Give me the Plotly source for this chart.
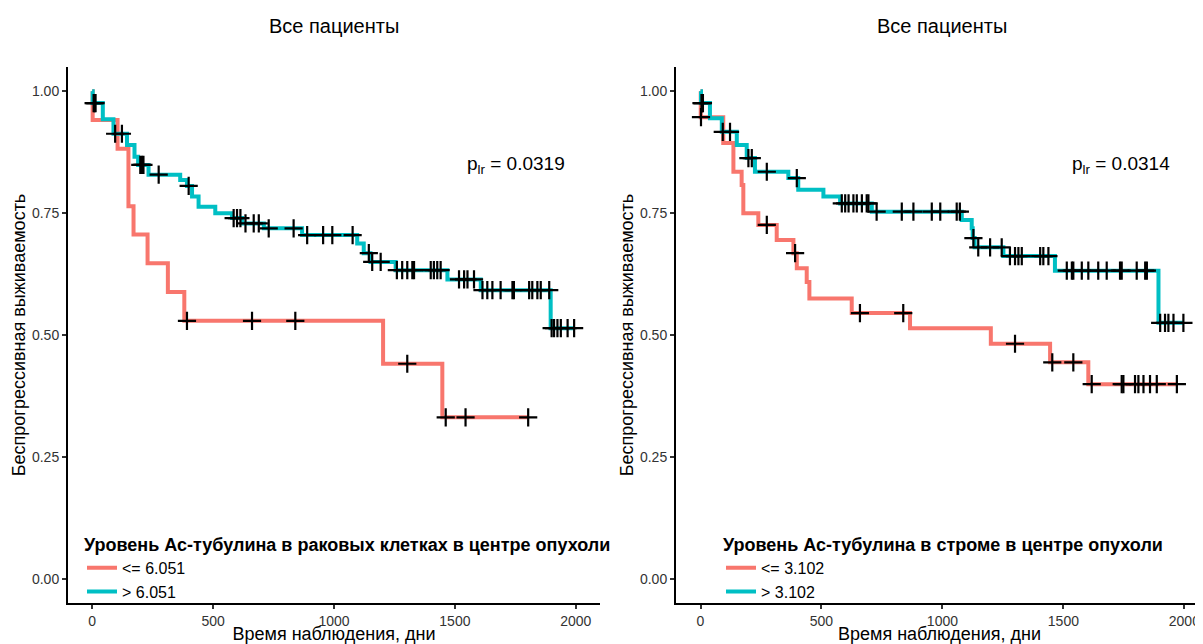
import plotly.graph_objects as go

# ---------------- data ----------------
TITLE = "Все пациенты"
X_LABEL = "Время наблюдения, дни"
Y_LABEL = "Беспрогрессивная выживаемость"
X_TICKS = [0, 500, 1000, 1500, 2000]
Y_TICKS = [0.0, 0.25, 0.50, 0.75, 1.00]
Y_TICK_TEXT = ["0.00", "0.25", "0.50", "0.75", "1.00"]

# Left panel: Ac-tubulin in cancer cells, tumour centre
L_legend_title = "Уровень Ас-тубулина в раковых клетках в центре опухоли"
L_names = ["<= 6.051", "> 6.051"]
L_pval = "p<sub>lr</sub> = 0.0319"

L_low_t = [0, 2, 105, 150, 171, 229, 313, 381, 1203, 1448]
L_low_s = [1.0, 0.941, 0.882, 0.764, 0.706, 0.647, 0.588, 0.529, 0.441, 0.331]
L_low_c = [392, 661, 840, 1303, 1462, 1544, 1803]

L_high_t = [0, 2, 44, 88, 144, 175, 190, 233, 364, 392, 413, 440, 509, 578,
            620, 710, 868, 1096, 1123, 1151, 1255, 1469, 1607, 1896]
L_high_s = [1.0, 0.976, 0.943, 0.913, 0.890, 0.866, 0.849, 0.829, 0.818, 0.806,
            0.784, 0.763, 0.750, 0.740, 0.729, 0.719, 0.705, 0.688, 0.668, 0.650,
            0.633, 0.614, 0.592, 0.514]
L_high_c = [6, 10, 14, 95, 123, 199, 206, 212, 275, 399, 585, 599, 613, 634, 668,
            689, 730, 833, 889, 955, 993, 1077, 1144, 1158, 1193, 1260, 1282, 1303,
            1324, 1331, 1400, 1413, 1427, 1441, 1517, 1538, 1552, 1579, 1614, 1634,
            1655, 1689, 1738, 1744, 1807, 1820, 1841, 1855, 1890, 1900, 1910, 1924,
            1938, 1966, 1993]

# Right panel: Ac-tubulin in stroma, tumour centre
R_legend_title = "Уровень Ас-тубулина в строме в центре опухоли"
R_names = ["<= 3.102", "> 3.102"]
R_pval = "p<sub>lr</sub> = 0.0314"

R_low_t = [0, 1, 94, 136, 170, 177, 239, 315, 384, 398, 439, 450, 625, 866,
           1200, 1445, 1603]
R_low_s = [1.0, 0.947, 0.894, 0.835, 0.808, 0.750, 0.726, 0.695, 0.668, 0.637,
           0.609, 0.575, 0.545, 0.514, 0.482, 0.444, 0.399]
R_low_c = [2, 274, 391, 659, 838, 1300, 1454, 1541, 1617, 1741, 1748, 1796, 1810,
           1831, 1858, 1886, 1969]

R_high_t = [0, 2, 39, 88, 150, 191, 225, 363, 404, 508, 577, 708, 1080, 1121,
            1125, 1133, 1252, 1465, 1893]
R_high_s = [1.0, 0.976, 0.945, 0.917, 0.890, 0.863, 0.835, 0.822, 0.798, 0.784,
            0.770, 0.753, 0.736, 0.719, 0.699, 0.680, 0.662, 0.632, 0.525]
R_high_c = [4, 7, 10, 92, 122, 198, 212, 274, 398, 584, 598, 612, 632, 646, 667,
            687, 694, 728, 832, 880, 956, 991, 1059, 1072, 1128, 1148, 1197, 1245,
            1279, 1300, 1314, 1328, 1404, 1417, 1438, 1514, 1535, 1541, 1576, 1603,
            1644, 1679, 1734, 1741, 1803, 1838, 1845, 1900, 1920, 1934, 1955, 1996]

# ---------------- styling ----------------
RED = "#F8766D"
CYAN = "#00BFC4"
FONT = "Liberation Sans, Arial, Helvetica, sans-serif"
# the page body has an 8px margin, so the figure is 8px smaller on each axis
W, H = 1195, 636
M_T, M_B = 59, 41


def step_value(ts, ss, t):
    v = ss[0]
    for ti, si in zip(ts, ss):
        if ti <= t:
            v = si
    return v


fig = go.Figure()

panels = [
    dict(xa="x", ya="y", leg="legend",
         curves=[(L_low_t, L_low_s, L_low_c, RED, L_names[0]),
                 (L_high_t, L_high_s, L_high_c, CYAN, L_names[1])]),
    dict(xa="x2", ya="y2", leg="legend2",
         curves=[(R_low_t, R_low_s, R_low_c, RED, R_names[0]),
                 (R_high_t, R_high_s, R_high_c, CYAN, R_names[1])]),
]

for p in panels:
    for ts, ss, cs, col, name in p["curves"]:
        end = max(ts[-1], max(cs))
        fig.add_trace(go.Scatter(
            x=list(ts) + [end], y=list(ss) + [ss[-1]],
            mode="lines", line=dict(color=col, width=4, shape="hv"),
            name=name, xaxis=p["xa"], yaxis=p["ya"], legend=p["leg"],
            hoverinfo="skip"))
    for ts, ss, cs, col, name in p["curves"]:
        fig.add_trace(go.Scatter(
            x=cs, y=[step_value(ts, ss, c) for c in cs],
            mode="markers",
            marker=dict(symbol="cross-thin", size=13, color="black",
                        line=dict(color="black", width=2.2)),
            showlegend=False, xaxis=p["xa"], yaxis=p["ya"], hoverinfo="skip"))

axis_common = dict(
    showgrid=False, zeroline=False, showline=True, linecolor="black",
    linewidth=2, ticks="outside", ticklen=4, tickwidth=1.5, tickcolor="#333",
    tickfont=dict(family=FONT, size=14, color="#333"),
    title_font=dict(family=FONT, size=18, color="black"),
)

legend_common = dict(xanchor="left", yanchor="top", bgcolor="rgba(0,0,0,0)",
                     itemwidth=30, tracegroupgap=0,
                     font=dict(family=FONT, size=16, color="black"))

fig.update_layout(
    width=W, height=H,
    margin=dict(l=0, r=0, t=M_T, b=M_B),
    plot_bgcolor="white", paper_bgcolor="white",
    font=dict(family=FONT, color="black"),
    xaxis=dict(domain=[60 / W, 592 / W], range=[-100, 2100], tickvals=X_TICKS,
               anchor="y", title=dict(text=X_LABEL, standoff=1), automargin=False,
               **axis_common),
    yaxis=dict(domain=[0, 1], range=[-0.05, 1.05], tickvals=Y_TICKS,
               ticktext=Y_TICK_TEXT, anchor="x",
               title=dict(text=Y_LABEL, standoff=2), automargin=False, **axis_common),
    xaxis2=dict(domain=[668 / W, 1], range=[-101.3, 2077], tickvals=X_TICKS,
                anchor="y2", title=dict(text=X_LABEL, standoff=1), automargin=False,
                **axis_common),
    yaxis2=dict(domain=[0, 1], range=[-0.05, 1.05], tickvals=Y_TICKS,
                ticktext=Y_TICK_TEXT, anchor="x2",
                title=dict(text=Y_LABEL, standoff=2), automargin=False, **axis_common),
    legend=dict(x=74 / W, y=0.141,
                title=dict(text="<b>" + L_legend_title + "</b>",
                           font=dict(family=FONT, size=18, color="black")),
                **legend_common),
    legend2=dict(x=713 / W, y=0.141,
                 title=dict(text="<b>" + R_legend_title + "</b>",
                            font=dict(family=FONT, size=18, color="black")),
                 **legend_common),
    showlegend=True,
)

# titles
for xc in [326, 934]:
    fig.add_annotation(x=xc / W, y=1, xref="paper", yref="paper",
                       yshift=(M_T - 18), text=TITLE, showarrow=False,
                       font=dict(family=FONT, size=20, color="black"),
                       xanchor="center", yanchor="middle")

# log-rank p-values
fig.add_annotation(x=1751, y=0.849, xref="x", yref="y", text=L_pval,
                   showarrow=False, font=dict(family=FONT, size=19, color="black"))
fig.add_annotation(x=1738, y=0.849, xref="x2", yref="y2", text=R_pval,
                   showarrow=False, font=dict(family=FONT, size=19, color="black"))

fig.write_html("out.html")
